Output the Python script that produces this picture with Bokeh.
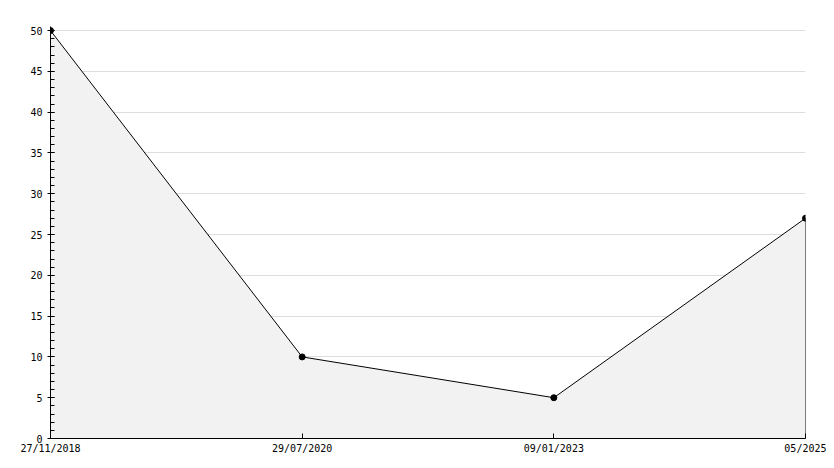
from bokeh.plotting import figure
from bokeh.models import Range1d, FixedTicker
from bokeh.embed import file_html
from bokeh.resources import INLINE

dates = ["27/11/2018", "29/07/2020", "09/01/2023", "05/2025"]
values = [50, 10, 5, 27]
y_ticks = [0, 5, 10, 15, 20, 25, 30, 35, 40, 45, 50]

xs = list(range(len(dates)))

p = figure(width=826, height=460, output_backend="svg", toolbar_location=None,
           x_range=Range1d(0, len(dates) - 1), y_range=Range1d(0, 50.5),
           min_border_left=50, min_border_right=21, min_border_top=26, min_border_bottom=22)
p.outline_line_color = None
p.background_fill_color = "white"
p.border_fill_color = "white"

p.varea(x=xs, y1=[0] * len(xs), y2=values, fill_color="#f2f2f2")
p.line(xs, values, line_color="black", line_width=1)
p.segment(x0=[xs[-1]], y0=[0], x1=[xs[-1]], y1=[values[-1]], line_color="black", line_width=1)
p.scatter(xs, values, marker="circle", size=6, fill_color="black", line_color="black")

font = "DejaVu Sans Mono"
p.xaxis.ticker = FixedTicker(ticks=xs)
p.xaxis.major_label_overrides = {i: d for i, d in enumerate(dates)}
p.xaxis.major_tick_in = 5
p.xaxis.major_tick_out = 0
p.xaxis.minor_tick_line_color = None
p.xaxis.axis_line_color = "black"
p.xaxis.major_label_text_font = font
p.xaxis.major_label_text_font_size = "10px"
p.xaxis.major_label_text_color = "black"
p.xaxis.major_label_standoff = 4

p.yaxis.ticker = FixedTicker(ticks=y_ticks, minor_ticks=list(range(0, 51)))
p.yaxis.major_tick_in = 4
p.yaxis.major_tick_out = 3
p.yaxis.minor_tick_in = 4
p.yaxis.minor_tick_out = 0
p.yaxis.axis_line_color = "black"
p.yaxis.major_label_text_font = font
p.yaxis.major_label_text_font_size = "10px"
p.yaxis.major_label_text_color = "black"
p.yaxis.major_label_standoff = 5

p.xgrid.grid_line_color = None
p.ygrid.grid_line_color = "#dddddd"
p.ygrid.ticker = FixedTicker(ticks=y_ticks)
p.ygrid.level = "underlay"

open("out.html", "w").write(file_html(p, INLINE))
